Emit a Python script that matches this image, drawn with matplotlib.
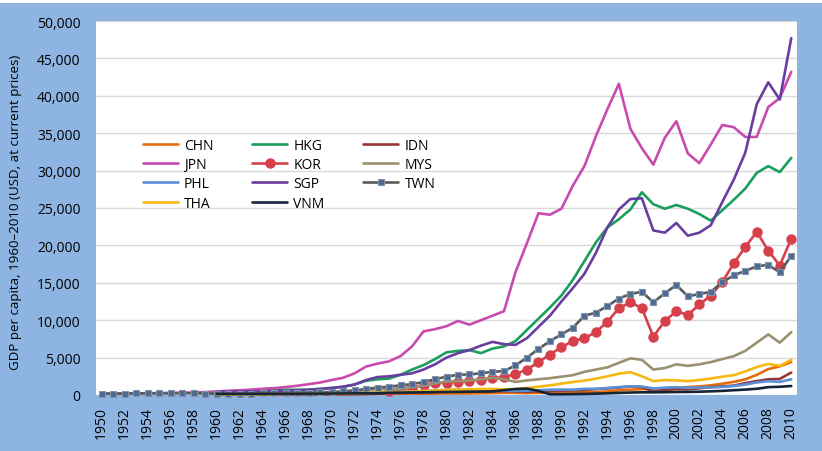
import numpy as np
import matplotlib
matplotlib.use('Agg')
from matplotlib import pyplot as plt
from matplotlib.patches import Rectangle
from matplotlib.ticker import FuncFormatter

plt.rcParams['font.family'] = ['Open Sans', 'DejaVu Sans']

years = list(range(1950, 2011))
n_years = len(years)

# values in current USD
chn = [90, 75, 70, 74, 85, 98, 104, 97, 91, 100,
       112, 118, 131, 157, 160, 178, 165, 185, 156, 184,
       195, 197, 203, 225, 250, 294, 281, 251, 283, 310,
       317, 333, 366, 377, 473, 610, 709, 782, 829, 873,
       959, 1053, 1149, 1289, 1509, 1753, 2099, 2693, 3468, 3832, 4400]
hkg = [420, 440, 490, 560, 620, 680, 700, 710, 710, 820,
       960, 1100, 1400, 1900, 2100, 2200, 2700, 3400, 4000, 4800,
       5700, 5900, 6000, 5600, 6200, 6500, 7200, 8700, 10200, 11700,
       13300, 15400, 17900, 20400, 22400, 23500, 24800, 27100, 25500, 24900,
       25400, 24900, 24200, 23300, 24700, 26100, 27600, 29700, 30600, 29800, 31700]
idn = [100, 95, 90, 85, 80, 75, 70, 75, 80, 80,
       80, 90, 100, 130, 180, 220, 260, 300, 360, 420,
       490, 570, 580, 500, 520, 510, 470, 440, 480, 530,
       580, 620, 680, 790, 870, 990, 1140, 1060, 460, 670,
       780, 750, 900, 1060, 1150, 1260, 1590, 1860, 2100, 2150, 3000]
jpn = [150, 170, 200, 220, 240, 260, 290, 320, 340, 390,
       480, 560, 630, 720, 830, 920, 1060, 1230, 1450, 1670,
       2000, 2300, 2900, 3800, 4200, 4500, 5200, 6500, 8500, 8800,
       9200, 9900, 9400, 10000, 10600, 11200, 16400, 20300, 24300, 24100,
       24900, 28000, 30600, 34600, 38200, 41600, 35600, 33000, 30800, 34400,
       36600, 32300, 31000, 33500, 36100, 35800, 34500, 34500, 38500, 39700, 43200]
kor = [600, 800, 1000, 1300, 1600,
       1650, 1800, 1900, 2050, 2250, 2400, 2800, 3400, 4400, 5400,
       6400, 7200, 7600, 8400, 9800, 11600, 12400, 11600, 7800, 9900,
       11200, 10700, 12100, 13300, 15100, 17600, 19800, 21800, 19300, 17300, 20900]
mys = [300, 290, 300, 320, 330, 340, 350, 350, 350, 370,
       380, 400, 460, 660, 800, 760, 880, 1030, 1250, 1560,
       1800, 1850, 1950, 2100, 2300, 2100, 1750, 1950, 2100, 2250,
       2450, 2650, 3100, 3400, 3700, 4300, 4900, 4700, 3400, 3600,
       4100, 3900, 4100, 4400, 4800, 5200, 5900, 7000, 8100, 7000, 8400]
phl = [250, 230, 210, 200, 195, 190, 190, 190, 190, 190,
       190, 210, 230, 280, 330, 370, 420, 470, 540, 610,
       690, 730, 750, 650, 590, 560, 540, 580, 640, 710,
       720, 720, 820, 820, 940, 1060, 1160, 1130, 870, 980,
       1040, 950, 1000, 1010, 1080, 1200, 1400, 1680, 1850, 1750, 2100]
sgp = [430, 450, 470, 490, 500, 520, 560, 620, 700, 800,
       920, 1100, 1400, 2000, 2400, 2500, 2700, 2900, 3400, 4100,
       5000, 5600, 6000, 6600, 7100, 6800, 6700, 7600, 9100, 10600,
       12500, 14300, 16200, 19000, 22400, 24800, 26200, 26300, 22000, 21700,
       23000, 21300, 21700, 22700, 25800, 28800, 32400, 38900, 41800, 39500, 47700]
twn = [200, 190, 200, 210, 210, 220, 210, 220, 230, 200,
       160, 160, 170, 190, 210, 220, 240, 270, 300, 340,
       400, 480, 620, 800, 1000, 1100, 1300, 1450, 1750, 2100,
       2450, 2700, 2750, 2900, 3100, 3200, 3950, 5000, 6150, 7200,
       8100, 9000, 10600, 11000, 11900, 12900, 13500, 13800, 12400, 13600,
       14700, 13200, 13500, 13800, 15100, 16000, 16600, 17200, 17400, 16400, 18600]
tha = [100, 110, 115, 120, 130, 140, 160, 170, 180, 190,
       195, 200, 215, 270, 340, 360, 400, 450, 530, 600,
       690, 730, 750, 800, 810, 740, 800, 930, 1110, 1290,
       1520, 1730, 1930, 2180, 2500, 2850, 3050, 2500, 1850, 2000,
       1950, 1850, 2000, 2200, 2450, 2650, 3150, 3750, 4150, 3900, 4700]
vnm = [150, 150, 160, 160, 170, 170, 180, 180, 190, 190,
       200, 210, 220, 230, 240, 300, 320, 340, 360, 380,
       400, 420, 440, 460, 480, 650, 800, 850, 550, 100,
       100, 120, 140, 180, 220, 280, 330, 360, 360, 370,
       400, 410, 440, 490, 550, 640, 720, 830, 1050, 1100, 1200]

labels = ['CHN', 'HKG', 'IDN', 'JPN', 'KOR', 'MYS', 'PHL', 'SGP', 'TWN', 'THA', 'VNM']
series = [chn, hkg, idn, jpn, kor, mys, phl, sgp, twn, tha, vnm]
colors = ['#E46C0A', '#1A9E5C', '#953735', '#C94BAE', '#D6404B', '#9A9170',
          '#5B8FD6', '#6A3DA0', '#5A5A5A', '#F5B90F', '#14253A']


def pad(vals):
    return [np.nan] * (n_years - len(vals)) + list(vals)


bg = '#8EB4E2'
fig = plt.figure(figsize=(8.22, 4.52), dpi=100, facecolor=bg)
fig.patches.append(Rectangle((0, 1 - 4 / 452), 1, 4 / 452, transform=fig.transFigure,
                             facecolor='white', edgecolor='none'))
ax = fig.add_axes([96 / 822, 56 / 452, 701 / 822, 374 / 452])
ax.set_facecolor('white')

handles = []
for lab, vals, col in zip(labels, series, colors):
    kw = dict(color=col, lw=1.9, solid_joinstyle='round', solid_capstyle='round')
    if lab == 'KOR':
        kw.update(marker='o', ms=6.5, mfc=col, mec=col)
    elif lab == 'TWN':
        kw.update(marker='s', ms=5, mfc='#4F6A90', mec='#8093AC', mew=0.8)
    line, = ax.plot(years, pad(vals), label=lab, clip_on=False, **kw)
    handles.append(line)

ax.set_xlim(1949.5, 2010.5)
ax.set_ylim(0, 50000)
ax.set_yticks(range(0, 50001, 5000))
ax.yaxis.set_major_formatter(FuncFormatter(lambda v, p: f'{int(v):,}'))
ax.set_xticks(range(1950, 2011, 2))
ax.tick_params(axis='x', labelrotation=90, length=0, pad=8, labelsize=10)
ax.tick_params(axis='y', length=0, pad=11, labelsize=10)
ax.grid(axis='y', color='#D9D9D9', lw=1)
ax.set_axisbelow(True)
for s in ax.spines.values():
    s.set_visible(False)

ax.set_ylabel('GDP per capita, 1960\u20132010 (USD, at current prices)', fontsize=9.6)
ax.yaxis.set_label_coords(-0.105, 0.49)

# column-major order gives CHN HKG IDN / JPN KOR MYS / ... in rows
order = [0, 3, 6, 9, 1, 4, 7, 10, 2, 5, 8]
ax.legend([handles[i] for i in order], [labels[i] for i in order], ncol=3,
          loc='upper left', bbox_to_anchor=(143 / 822, 1 - 139 / 452),
          bbox_transform=fig.transFigure, frameon=False, fontsize=10,
          borderpad=0, borderaxespad=0, handlelength=2.5, handletextpad=0.45,
          columnspacing=2.8, labelspacing=0.3)

fig.savefig('out.png', dpi=100, facecolor=bg)
